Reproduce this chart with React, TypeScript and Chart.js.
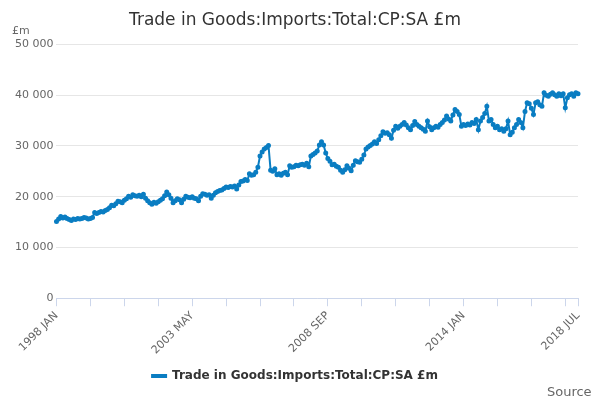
import React, { useEffect, useRef } from "react";
import { Chart, registerables } from "chart.js";
Chart.register(...registerables);

const MONTHS = ["JAN","FEB","MAR","APR","MAY","JUN","JUL","AUG","SEP","OCT","NOV","DEC"];
const START_YEAR = 1998;
const values: number[] = [
15100,15600,16100,15800,16000,15700,15500,15300,15600,15500,15700,15600,
15700,15900,15800,15600,15700,15900,16900,16700,16900,17100,17000,17300,
17500,17800,18300,18200,18600,19100,19000,18800,19300,19600,20100,19900,
20400,20200,20100,20300,20000,20500,19700,19200,18800,18500,18900,18700,
19000,19300,19600,20200,20900,20400,19700,18800,19200,19600,19400,18800,
19500,20100,19900,19800,20000,19700,19600,19200,20100,20600,20500,20300,
20400,19700,20300,20800,21000,21200,21300,21600,21900,21800,22000,21900,
22100,21500,22300,23000,23100,23400,23200,24500,24200,24300,24800,25800,
28000,28800,29400,29700,30100,25200,25000,25500,24300,24500,24200,24600,
24800,24300,26100,25800,25900,26200,26100,26300,26400,26200,26600,25900,
28000,28300,28600,29000,30200,30800,30200,28600,27500,27000,26300,26400,
26000,25800,25200,24800,25300,26100,25600,25100,26200,27100,26900,26800,
27400,28200,29400,29800,30100,30400,30800,30500,31200,32000,32800,32500,
32600,32200,31500,33100,33900,33500,33900,34200,34600,34100,33600,33200,
34000,34800,34200,33900,33600,33300,32900,34900,33800,33200,33600,33900,
33700,34200,34600,35100,35900,35300,34900,36100,37200,36800,36200,33900,
34200,34000,34300,34100,34600,34400,35200,33200,34900,35600,36400,37800,
34900,35200,34200,33600,33900,33200,33400,32900,33400,34900,32200,32700,
33600,34200,35200,34600,33600,36800,38500,38300,37400,36200,38500,38700,
38100,37800,40500,40000,39800,40200,40500,40100,39800,40300,39900,40300,
37500,39500,40100,40300,39800,40500,40300
];
const labels: string[] = values.map((_, i) => `${START_YEAR + Math.floor(i / 12)} ${MONTHS[i % 12]}`);
const SERIES = "Trade in Goods:Imports:Total:CP:SA £m";
const COLOR = "#0a7dc2";

export default function App() {
  const ref = useRef<HTMLCanvasElement>(null);
  useEffect(() => {
    const last = labels.length - 1;
    const extra = {
      id: "extra",
      afterDraw(c: any) {
        const g = c.ctx;
        g.save();
        g.fillStyle = "#666";
        g.font = "11px 'DejaVu Sans'";
        g.textAlign = "left";
        g.fillText("£m", 4, 23);
        g.textAlign = "right";
        g.font = "13px 'DejaVu Sans'";
        g.fillText("Source:", 588, 385);
        g.restore();
      },
    };
    const chart = new Chart(ref.current!, {
      type: "line",
      data: {
        labels,
        datasets: [{
          label: SERIES, data: values, borderColor: COLOR, backgroundColor: COLOR,
          borderWidth: 2, pointRadius: 1.5, pointHoverRadius: 2, tension: 0,
        }],
      },
      options: {
        animation: false, responsive: false,
        layout: { padding: { left: 4, right: 14, top: 0, bottom: 8 } },
        plugins: {
          title: { display: true, text: SERIES, color: "#333", font: { family: "DejaVu Sans", size: 17, weight: "normal" }, padding: { top: 2, bottom: 14 } },
          legend: { position: "bottom", labels: { color: "#333", boxWidth: 14, boxHeight: 2, font: { family: "DejaVu Sans", size: 12, weight: "bold" } } },
          tooltip: { enabled: false },
        },
        scales: {
          x: {
            ticks: {
              autoSkip: false, maxRotation: 45, minRotation: 45, color: "#666",
              font: { family: "DejaVu Sans", size: 11 },
              callback: (_v: any, i: number) => (i % 64 === 0 || i === last ? labels[i] : ""),
            },
            grid: {
              drawOnChartArea: false, tickLength: 8,
              color: (ctx: any) => (ctx.index % 16 === 0 || ctx.index === last ? "#ccd6eb" : "transparent"),
            },
            border: { color: "#ccd6eb" },
          },
          y: {
            min: 0, max: 50000,
            ticks: { stepSize: 10000, color: "#666", font: { family: "DejaVu Sans", size: 11 },
              callback: (v: any) => String(v).replace(/\B(?=(\d{3})+(?!\d))/g, " ") },
            grid: { color: "#e6e6e6", drawTicks: false },
            border: { display: false },
          },
        },
      },
      plugins: [extra],
    } as any);
    return () => chart.destroy();
  }, []);
  return <canvas ref={ref} width={584} height={392} style={{ display: "block" }} />;
}
